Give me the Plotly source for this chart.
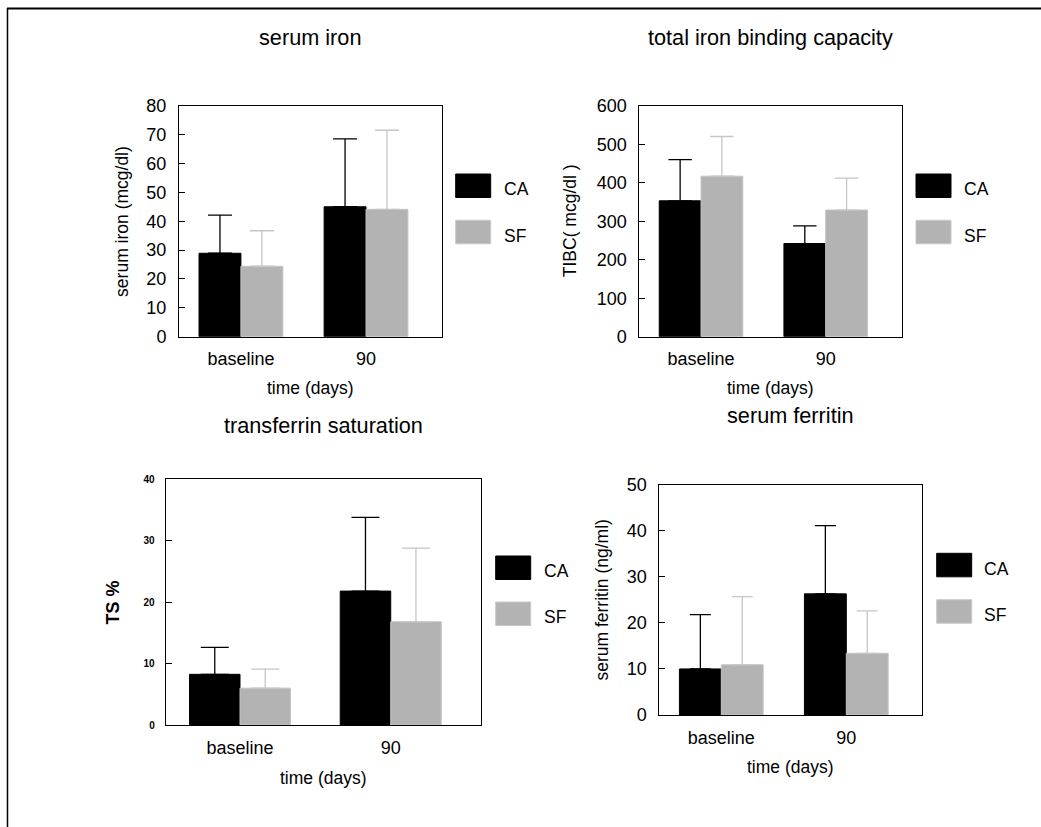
import plotly.graph_objects as go

W, H = 1041, 827

# ---------------- data ----------------
categories = ["baseline", "90"]
groups = ["CA", "SF"]

iron_ca = [28.9, 45.0]
iron_ca_sd = [13.2, 23.5]
iron_sf = [24.4, 44.1]
iron_sf_sd = [12.3, 27.4]
iron_ticks = [0, 10, 20, 30, 40, 50, 60, 70, 80]

tibc_ca = [353, 242]
tibc_ca_sd = [107, 46]
tibc_sf = [417, 329]
tibc_sf_sd = [103, 83]
tibc_ticks = [0, 100, 200, 300, 400, 500, 600]

ts_ca = [8.25, 21.8]
ts_ca_sd = [4.4, 12.0]
ts_sf = [6.0, 16.8]
ts_sf_sd = [3.1, 12.0]
ts_ticks = [0, 10, 20, 30, 40]

fer_ca = [10.0, 26.3]
fer_ca_sd = [11.8, 14.8]
fer_sf = [10.9, 13.4]
fer_sf_sd = [14.8, 9.2]
fer_ticks = [0, 10, 20, 30, 40, 50]

titles = ["serum iron", "total iron binding capacity", "transferrin saturation", "serum ferritin"]
ytitles = ["serum iron (mcg/dl)", "TIBC( mcg/dl )", "TS %", "serum ferritin (ng/ml)"]
xtitle = "time (days)"

# ---------------- styling / layout ----------------
FONT = "Liberation Sans, Arial, Helvetica, sans-serif"
CA_COLOR = "#000000"
SF_COLOR = "#b3b3b3"
SF_ERR = "#c6c6c6"


def fx(x):
    return x / W


def fy(y):
    return 1 - y / H


panels = [
    dict(ca=iron_ca, ca_sd=iron_ca_sd, sf=iron_sf, sf_sd=iron_sf_sd, ticks=iron_ticks,
         box=(179, 105.7, 441.7, 336.7), title_y=37, ytitle_x=121.7, xtitle_y=388.3,
         leg_x=455.7, leg_y=(174, 220.3), leg_tx=501.7, cap=12, tickfont=dict(size=18),
         ytfont=dict(size=17.5), xrange=[-0.495, 1.605]),
    dict(ca=tibc_ca, ca_sd=tibc_ca_sd, sf=tibc_sf, sf_sd=tibc_sf_sd, ticks=tibc_ticks,
         box=(639.3, 105.7, 902, 336.7), title_y=37, ytitle_x=570, xtitle_y=388.3,
         leg_x=916, leg_y=(174, 220.3), leg_tx=961.7, cap=11.7, tickfont=dict(size=18),
         ytfont=dict(size=17.5), xrange=[-0.495, 1.612]),
    dict(ca=ts_ca, ca_sd=ts_ca_sd, sf=ts_sf, sf_sd=ts_sf_sd, ticks=ts_ticks,
         box=(165.7, 479.3, 481.3, 725), title_y=425, ytitle_x=113.3, xtitle_y=777.7,
         leg_x=495.7, leg_y=(556, 602), leg_tx=542, cap=14,
         tickfont=dict(size=10, weight="bold"), ytfont=dict(size=18, weight="bold"),
         xrange=[-0.493, 1.601]),
    dict(ca=fer_ca, ca_sd=fer_ca_sd, sf=fer_sf, sf_sd=fer_sf_sd, ticks=fer_ticks,
         box=(659.3, 484.7, 922.3, 715), title_y=415, ytitle_x=601.7, xtitle_y=766.7,
         leg_x=936.7, leg_y=(553.3, 599.7), leg_tx=981.7, cap=10.5, tickfont=dict(size=18),
         ytfont=dict(size=17.5), xrange=[-0.496, 1.608]),
]

fig = go.Figure()
annotations = []
shapes = []
layout_axes = {}

for i, p in enumerate(panels):
    n = i + 1
    xa = "x" if n == 1 else f"x{n}"
    ya = "y" if n == 1 else f"y{n}"
    xkey = "xaxis" if n == 1 else f"xaxis{n}"
    ykey = "yaxis" if n == 1 else f"yaxis{n}"
    x0, y0, x1, y1 = p["box"]

    fig.add_trace(go.Bar(
        x=categories, y=p["ca"], name=groups[0], xaxis=xa, yaxis=ya,
        marker=dict(color=CA_COLOR, line=dict(color=CA_COLOR, width=1)),
        error_y=dict(type="data", array=p["ca_sd"], arrayminus=[0] * len(p["ca"]),
                     symmetric=False, color=CA_COLOR, thickness=1.3, width=p["cap"]),
        showlegend=False,
    ))
    fig.add_trace(go.Bar(
        x=categories, y=p["sf"], name=groups[1], xaxis=xa, yaxis=ya,
        marker=dict(color=SF_COLOR, line=dict(color="#c4c4c4", width=1)),
        error_y=dict(type="data", array=p["sf_sd"], arrayminus=[0] * len(p["sf"]),
                     symmetric=False, color=SF_ERR, thickness=1.3, width=p["cap"]),
        showlegend=False,
    ))

    layout_axes[xkey] = dict(
        domain=[fx(x0), fx(x1)], anchor=ya, type="category", range=p["xrange"],
        showline=True, mirror=True, linecolor="black", linewidth=1,
        ticks="", showgrid=False, zeroline=False, automargin=False,
        tickfont=dict(size=18, color="black", family=FONT), ticklabelstandoff=6,
        fixedrange=True,
    )
    layout_axes[ykey] = dict(
        domain=[fy(y1), fy(y0)], anchor=xa, range=[p["ticks"][0], p["ticks"][-1]],
        tickvals=p["ticks"], showline=True, mirror=True, linecolor="black", linewidth=1,
        ticks="inside", ticklen=6, tickcolor="black", tickwidth=1,
        showgrid=False, zeroline=False, automargin=False,
        tickfont=dict(color="black", family=FONT, **p["tickfont"]), ticklabelstandoff=8,
        fixedrange=True,
    )

    cx = (x0 + x1) / 2
    cy = (y0 + y1) / 2
    annotations.append(dict(text=titles[i], x=fx(cx), y=fy(p["title_y"]), xref="paper", yref="paper",
                            xanchor="center", yanchor="middle", showarrow=False,
                            font=dict(size=21.7, color="black", family=FONT)))
    annotations.append(dict(text=ytitles[i], x=fx(p["ytitle_x"]), y=fy(cy), xref="paper", yref="paper",
                            xanchor="center", yanchor="middle", showarrow=False, textangle=-90,
                            font=dict(color="black", family=FONT, **p["ytfont"])))
    annotations.append(dict(text=xtitle, x=fx(cx), y=fy(p["xtitle_y"]), xref="paper", yref="paper",
                            xanchor="center", yanchor="middle", showarrow=False,
                            font=dict(size=17.5, color="black", family=FONT)))

    for g, col, lc, ly in zip(groups, [CA_COLOR, SF_COLOR], [CA_COLOR, "#c8c8c8"], p["leg_y"]):
        shapes.append(dict(type="rect", xref="paper", yref="paper",
                           x0=fx(p["leg_x"]), x1=fx(p["leg_x"] + 35),
                           y0=fy(ly + 23.5), y1=fy(ly),
                           fillcolor=col, line=dict(color=lc, width=1)))
        annotations.append(dict(text=g, x=fx(p["leg_tx"]), y=fy(ly + 11.75 + 3.5), xref="paper", yref="paper",
                                xanchor="left", yanchor="middle", showarrow=False,
                                font=dict(size=17.5, color="black", family=FONT)))

shapes.append(dict(type="line", xref="paper", yref="paper", x0=fx(7), x1=1, y0=fy(8.5), y1=fy(8.5),
                   line=dict(color="black", width=2)))
shapes.append(dict(type="line", xref="paper", yref="paper", x0=fx(7.5), x1=fx(7.5), y0=fy(8), y1=0,
                   line=dict(color="black", width=1.5)))

fig.update_layout(
    width=W, height=H,
    margin=dict(l=0, r=0, t=0, b=0, pad=0, autoexpand=False),
    paper_bgcolor="white", plot_bgcolor="white",
    barmode="group", bargap=0.33, bargroupgap=0,
    showlegend=False,
    font=dict(family=FONT, color="black"),
    annotations=annotations, shapes=shapes,
    **layout_axes,
)

post = (
    "document.documentElement.style.margin='0';"
    "document.body.style.margin='0';"
    "document.body.style.overflow='hidden';"
    "var gd=document.getElementById('{plot_id}');"
    "gd.style.position='fixed';gd.style.left='0px';gd.style.top='0px';"
)

fig.write_html("out.html", config=dict(displayModeBar=False), post_script=post)
